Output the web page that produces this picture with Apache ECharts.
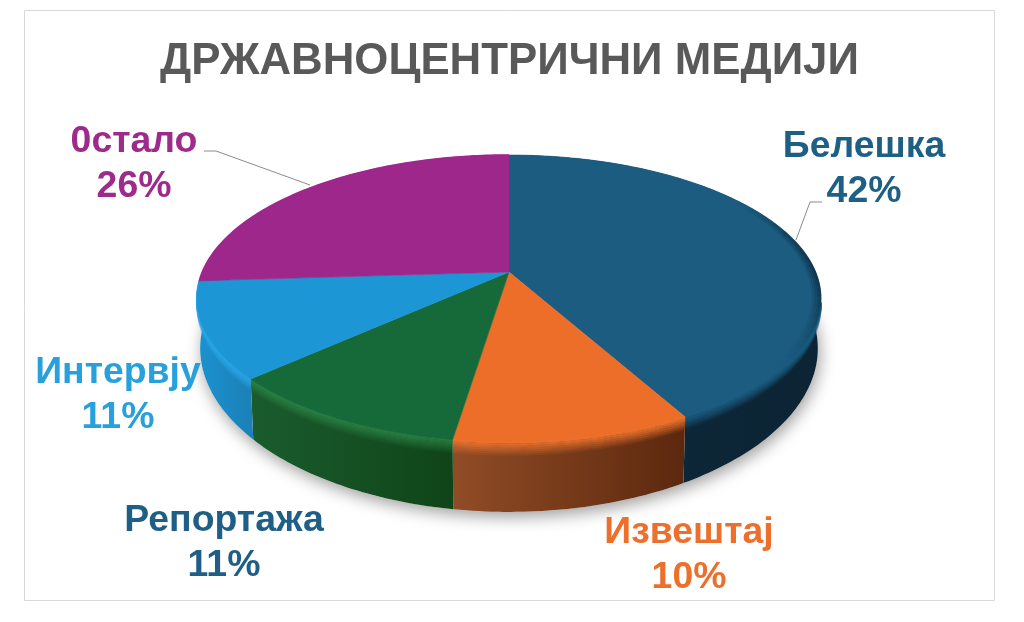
<!DOCTYPE html>
<html><head><meta charset="utf-8">
<script src="https://cdn.jsdelivr.net/npm/echarts@6/dist/echarts.min.js"></script>
<style>html,body{margin:0;padding:0;background:#fff}#c{width:1024px;height:622px}</style>
</head><body><div id="c"></div>
<script>
// Data
const chartTitle = 'ДРЖАВНОЦЕНТРИЧНИ МЕДИЈИ';
const categories = ['Белешка', 'Извештај', 'Репортажа', 'Интервју', '0стало'];
const shares = [42, 10.4, 10.8, 10.8, 26];

// Styles (index-aligned with categories)
const topColors = ['#1b5c80', '#ec6e28', '#166a39', '#1d96d6', '#9e278c'];
const rimColors = ['#1b5c80', '#ee742e', '#2a8044', '#2aa4e2', '#9e278c'];
const wallLeft = ['#0c2a3c', '#904c26', '#1a5c2e', '#1c92d0', '#7d1f70'];
const wallRight = ['#0c2434', '#5c280e', '#0f4418', '#1b80b6', '#7d1f70'];
const labelColors = ['#1e5f85', '#ec702c', '#1f5f85', '#27a0dc', '#9e2a8b'];
const labelAnchors = [[864, 169], [689, 555], [224, 543], [118, 395], [134, 164]];
const leaders = [null, null, null, null, null];
leaders[0] = [[796, 240], [810, 202], [822, 202]];
leaders[4] = [[204, 151], [216, 151], [310, 185]];
const bevelStart = [102, null, null, null, null];

// Pie projection
const cx = 509, cy = 272, rx = 306.6, ry = 138.6, persp = 0.1846, depth = 46.5, baseShrink = 0.99;
function project(deg, r) {
  const a = deg * Math.PI / 180, u = Math.sin(a) * r, v = -Math.cos(a) * r, w = 1 - persp * v;
  return { x: cx + rx * u / w, y: cy + ry * v / w, w };
}
// f = 0 on the rim of the top face, f = 1 on the bottom edge of the wall
function ring(a0, a1, f, r) {
  const pts = [], n = Math.max(2, Math.ceil(Math.abs(a1 - a0)));
  const s = 1 - (1 - baseShrink) * f;
  for (let i = 0; i <= n; i++) {
    const p = project(a0 + (a1 - a0) * i / n, r === undefined ? 1 : r);
    pts.push([cx + (p.x - cx) * s, p.y + f * depth / (p.w * p.w)]);
  }
  return pts;
}
const total = shares.reduce((a, b) => a + b, 0);
const starts = [];
shares.reduce((acc, s, i) => { starts[i] = acc; return acc + s; }, 0);

function renderSlice(params, api) {
  const i = params.dataIndex;
  const a0 = starts[i] / total * 360, a1 = a0 + api.value(0) / total * 360;
  const kids = [];
  if (i === 0) {
    kids.push({
      type: 'polygon', z2: 0, silent: true,
      shape: { points: ring(0, 360, 1) },
      style: { fill: '#fff', shadowBlur: 16, shadowColor: 'rgba(0,0,0,0.38)', shadowOffsetY: 5, shadowOffsetX: 2 }
    });
  }
  // wall
  kids.push({
    type: 'polygon', z2: 2,
    shape: { points: ring(a0, a1, 0).concat(ring(a0, a1, 1).reverse()) },
    style: {
      fill: { type: 'linear', x: 0, y: 0, x2: 1, y2: 0, colorStops: [
        { offset: 0, color: wallLeft[i] },
        { offset: 1, color: wallRight[i] }
      ] }
    }
  });
  // soft bevel on top of the wall
  const b0 = bevelStart[i] === null ? a0 : bevelStart[i];
  for (let k = 0; k < 7; k++) {
    kids.push({
      type: 'polyline', z2: 3, silent: true,
      shape: { points: ring(b0, a1, (k * 1.8 + 0.5) / depth * 0.75) },
      style: { fill: 'none', stroke: rimColors[i], lineWidth: 2.2, opacity: 0.95 - k * 0.14 }
    });
  }
  // top face
  kids.push({
    type: 'polygon', z2: 6,
    shape: { points: [[cx, cy]].concat(ring(a0, a1, 0)) },
    style: { fill: topColors[i], stroke: topColors[i], lineWidth: 0.6 }
  });
  // darkened edge on the far right of the top face
  if (i === 0) {
    for (let s = 52; s < 128; s += 4) {
      const t = Math.sin((s - 52) / 76 * Math.PI);
      for (let k = 0; k < 5; k++) {
        kids.push({
          type: 'polyline', z2: 7, silent: true,
          shape: { points: ring(s, s + 4, 0, 0.998 - k * 0.006) },
          style: { fill: 'none', stroke: '#0c2434', lineWidth: 2.2, opacity: t * t * (0.6 - k * 0.12) }
        });
      }
    }
  }
  // label
  kids.push({
    type: 'text', z2: 20,
    style: {
      x: labelAnchors[i][0], y: labelAnchors[i][1],
      text: categories[i] + '\n' + Math.round(api.value(0)) + '%',
      fill: labelColors[i], align: 'center', verticalAlign: 'middle',
      font: 'bold 37.4px "Liberation Sans", Arial, sans-serif', lineHeight: 45
    }
  });
  if (leaders[i]) {
    kids.push({
      type: 'polyline', z2: 19,
      shape: { points: leaders[i] },
      style: { fill: 'none', stroke: '#8c8c8c', lineWidth: 1 }
    });
  }
  return { type: 'group', children: kids };
}

const chart = echarts.init(document.getElementById('c'), null, { renderer: 'canvas' });
chart.setOption({
  animation: false,
  backgroundColor: '#ffffff',
  title: {
    text: chartTitle, left: 504.5, top: 35, textAlign: 'center',
    textStyle: { color: '#595959', fontFamily: '"Liberation Sans", Arial, sans-serif', fontWeight: 'bold', fontSize: 43.8 }
  },
  graphic: [{
    type: 'rect', silent: true, z: -1,
    shape: { x: 24.5, y: 10.5, width: 970, height: 590 },
    style: { fill: '#fff', stroke: '#d9d9d9', lineWidth: 1 }
  }],
  series: [{
    type: 'custom', coordinateSystem: 'none', clip: false,
    renderItem: renderSlice,
    data: categories.map((n, i) => ({ name: n, value: [shares[i]] }))
  }]
});
</script></body></html>
